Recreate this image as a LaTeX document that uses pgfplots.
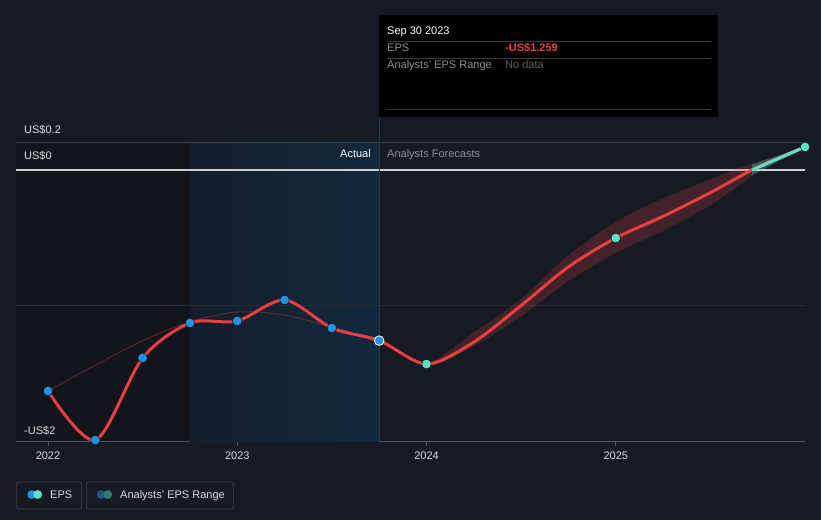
\documentclass[border=0pt]{standalone}
\usepackage{pgfplots}
\pgfplotsset{compat=1.18}
\usepackage{fontspec}
\setmainfont{Liberation Sans}
\definecolor{bg}{RGB}{21,26,35}
\definecolor{pastbg}{RGB}{18,22,28}
\definecolor{hlL}{RGB}{20,30,43}
\definecolor{hlR}{RGB}{18,41,62}
\definecolor{epsred}{RGB}{232,64,64}
\definecolor{epsblue}{RGB}{35,146,224}
\definecolor{epsteal}{RGB}{95,225,200}
\definecolor{gridtop}{RGB}{60,65,74}
\definecolor{gridmid}{RGB}{38,43,52}
\definecolor{zeroc}{RGB}{205,205,205}
\definecolor{axisc}{RGB}{80,86,96}
\definecolor{crossc}{RGB}{35,55,80}
\definecolor{lblc}{RGB}{220,220,220}
\definecolor{graytxt}{RGB}{140,144,150}
\definecolor{dimtxt}{RGB}{92,96,104}
\definecolor{sepc}{RGB}{55,58,64}
\definecolor{legbox}{RGB}{60,65,74}
\definecolor{legblue}{RGB}{30,88,132}
\definecolor{legteal}{RGB}{48,122,115}
\begin{document}
\begin{tikzpicture}
\fill[bg] (0,0) rectangle (821pt,520pt);
\begin{axis}[
  at={(16pt,79pt)}, anchor=south west,
  scale only axis, width=789pt, height=426pt,
  xmin=2021.8309, xmax=2026, ymin=-2, ymax=1.1439,
  axis lines*=left,
  y axis line style={draw=none},
  x axis line style={draw=axisc, line width=1pt},
  xtick={2022,2023,2024,2025},
  xticklabels={2022,2023,2024,2025},
  xtick align=outside, major tick length=5pt,
  xtick style={draw=axisc, line width=1pt},
  ytick=\empty,
  /pgf/number format/assume math mode=true,
  xticklabel style={font=\fontsize{11}{13}\selectfont, text=lblc, yshift=-2pt},
  clip=true,
]
% background regions
\fill[pastbg] (axis cs:2021.8309,-2) rectangle (axis cs:2022.75,0.2066);
\shade[left color=hlL, right color=hlR] (axis cs:2022.75,-2) rectangle (axis cs:2023.75,0.2066);
% grid lines
\draw[gridtop, line width=1pt] (axis cs:2021.8309,0.2066) -- (axis cs:2026,0.2066);
\draw[gridmid, line width=1pt] (axis cs:2021.8309,-1) -- (axis cs:2026,-1);
\draw[zeroc, line width=1.3pt] (axis cs:2021.8309,0) -- (axis cs:2026,0);
\draw[crossc, line width=1pt] (axis cs:2023.75,-2) -- (axis cs:2023.75,1.1439);
% faded trailing curve
\addplot[epsred, opacity=0.35, line width=1pt, smooth, no markers] coordinates {
  (2022,-1.631) (2022.25,-1.44) (2022.5,-1.26) (2022.75,-1.12) (2023,-1.048)
  (2023.25,-1.07) (2023.5,-1.16) (2023.75,-1.259)};
% analysts range band (upper edge out, lower edge back)
\addplot[draw=none, fill=epsred, fill opacity=0.22, smooth, no markers] coordinates {
  (2023.75,-1.259) (2024,-1.42) (2024.25,-1.20) (2024.5,-0.95) (2024.75,-0.63)
  (2025,-0.384) (2025.25,-0.21) (2025.5,-0.07) (2025.72,0.045)
  (2025.72,-0.04) (2025.5,-0.26) (2025.25,-0.45) (2025,-0.613) (2024.75,-0.82)
  (2024.5,-1.08) (2024.25,-1.30) (2024,-1.44) (2023.75,-1.259)} -- cycle;
\addplot[draw=none, fill=epsteal, fill opacity=0.3, no markers] coordinates {
  (2025.72,0.045) (2026,0.17) (2025.72,-0.04)} -- cycle;
% EPS line
\addplot[epsred, line width=3pt, smooth, no markers] coordinates {
  (2022,-1.631) (2022.25,-1.993) (2022.5,-1.387) (2022.75,-1.129) (2023,-1.114)
  (2023.25,-0.959) (2023.5,-1.166) (2023.75,-1.259) (2024,-1.432) (2024.25,-1.27)
  (2024.5,-1.00) (2024.75,-0.715) (2025,-0.502) (2025.25,-0.342) (2025.5,-0.167)
  (2025.75,0.022) (2026,0.17)};
\addplot[epsteal, line width=3pt, no markers] coordinates {(2025.72,0) (2026,0.17)};
% markers
\addplot[only marks, mark=*, mark size=4.8pt, mark options={fill=epsblue, draw=none}] coordinates {
  (2022,-1.631) (2022.25,-1.993) (2022.5,-1.387) (2022.75,-1.129) (2023,-1.114)
  (2023.25,-0.959) (2023.5,-1.166)};
\addplot[only marks, mark=*, mark size=4.8pt, mark options={fill=epsblue, draw=white, line width=0.8pt}] coordinates {(2023.75,-1.259)};
\addplot[only marks, mark=*, mark size=4.8pt, mark options={fill=epsteal, draw=none}] coordinates {
  (2024,-1.432) (2025,-0.502) (2026,0.17)};
\end{axis}
\begin{scope}[shift={(0pt,520pt)}, x=1pt, y=-1pt]
  \fontsize{11}{13}\selectfont
  % y labels
  \node[anchor=base west, text=lblc, inner sep=0] at (24,134) {US\$0.2};
  \node[anchor=base west, text=lblc, inner sep=0] at (24,160) {US\$0};
  \node[anchor=base west, text=lblc, inner sep=0] at (24,434) {-US\$2};
  % actual / forecasts
  \node[anchor=base east, text=white, inner sep=0] at (371,158) {Actual};
  \node[anchor=base west, text=graytxt, inner sep=0] at (387,158) {Analysts Forecasts};
  % tooltip
  \fill[black] (379,15) rectangle (718,117);
  \draw[sepc, line width=0.8pt] (387,41) -- (711,41);
  \draw[sepc, line width=0.8pt] (387,58) -- (711,58);
  \draw[sepc, line width=0.8pt] (387,109) -- (711,109);
  \node[anchor=base west, text=white, inner sep=0] at (387,35) {Sep 30 2023};
  \node[anchor=base west, text=graytxt, inner sep=0] at (387,52) {EPS};
  \node[anchor=base west, text=epsred, inner sep=0] at (505,52) {\bfseries -US\$1.259};
  \node[anchor=base west, text=graytxt, inner sep=0] at (387,69) {Analysts' EPS Range};
  \node[anchor=base west, text=dimtxt, inner sep=0] at (505,69) {No data};
  % legend
  \draw[legbox, line width=0.8pt, rounded corners=2pt] (16.7,482) rectangle (81.7,509);
  \fill[epsblue] (31.7,494.5) circle (4.4);
  \fill[epsteal] (37.7,494.5) circle (4.4);
  \node[anchor=base west, text=lblc, inner sep=0] at (50,498.5) {EPS};
  \draw[legbox, line width=0.8pt, rounded corners=2pt] (86.7,482) rectangle (233.3,509);
  \fill[legblue] (101,494.5) circle (4.4);
  \fill[legteal] (107.7,494.5) circle (4.4);
  \node[anchor=base west, text=lblc, inner sep=0] at (120,498.5) {Analysts' EPS Range};
\end{scope}
\end{tikzpicture}
\end{document}
